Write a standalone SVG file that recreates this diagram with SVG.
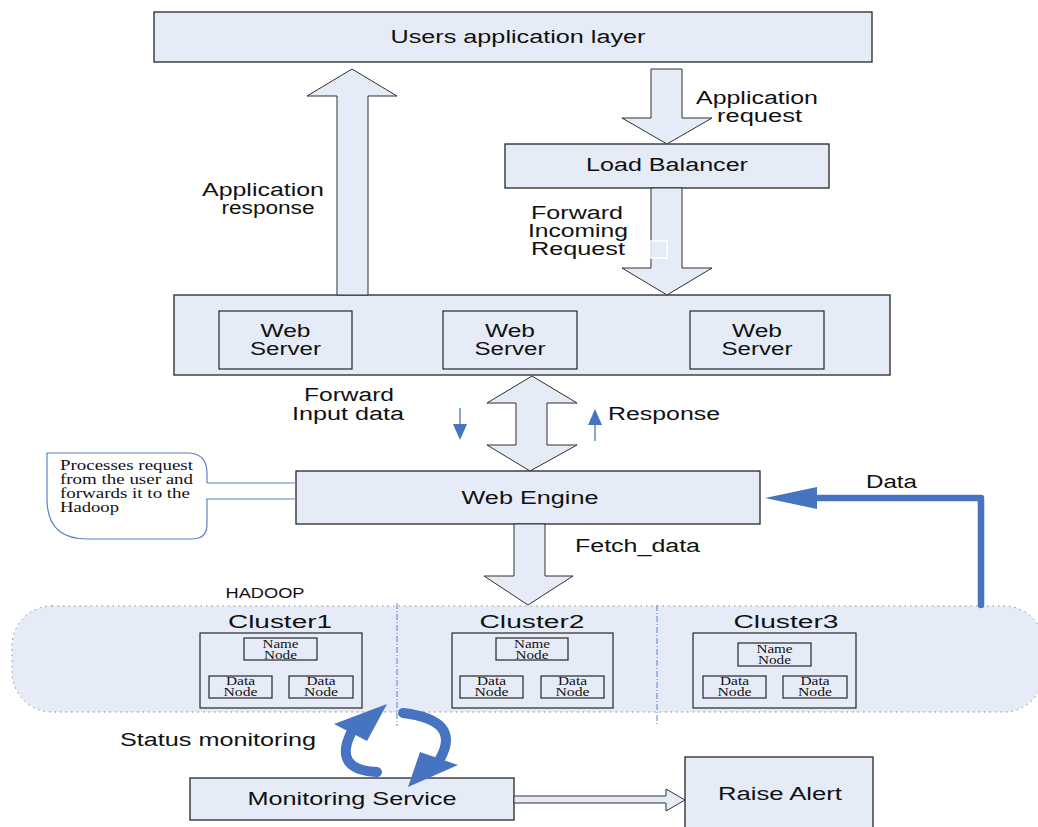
<svg xmlns="http://www.w3.org/2000/svg" width="1038" height="827" viewBox="0 0 1038 827">
  <style>
    .box { fill: #e6ecf7; stroke: #262626; stroke-width: 1.3; }
    .inner { fill: #e6ecf7; stroke: #262626; stroke-width: 1.2; }
    .fat { fill: #e6ecf7; stroke: #303030; stroke-width: 1; stroke-linejoin: miter; }
    .t { font-family: "Liberation Sans", Arial, sans-serif; font-size: 18px; fill: #111; text-anchor: middle; }
    .s { font-family: "Liberation Serif", "Times New Roman", serif; fill: #111; }
    .nn { font-size: 11.5px; text-anchor: middle; }
    .blue { fill: #4674c1; }
    .bl { stroke: #4674c1; fill: none; }
    .div { stroke: #5b84c4; stroke-width: 1; stroke-dasharray: 6 2 1 2; }
  </style>

  <!-- Hadoop container (drawn first, behind clusters) -->
  <g id="hadoop">
    <rect x="12" y="606" width="1032" height="106" rx="40" ry="40" fill="#e6ecf7" stroke="#8a8a8a" stroke-width="1" stroke-dasharray="1.5 4"/>
    <text class="t" x="265" y="598" style="font-size:14px" textLength="79" lengthAdjust="spacingAndGlyphs">HADOOP</text>
    <line class="div" x1="397" y1="603" x2="397" y2="726"/>
    <line class="div" x1="657" y1="605" x2="657" y2="726"/>
  </g>

  <g id="cluster1">
    <text class="t" x="280" y="628" textLength="104" lengthAdjust="spacingAndGlyphs">Cluster1</text>
    <rect class="inner" x="200" y="633" width="162" height="75"/>
    <rect class="inner" x="244" y="638" width="73" height="22"/>
    <text class="s nn"><tspan x="280.5" y="648" textLength="36" lengthAdjust="spacingAndGlyphs">Name</tspan><tspan x="280.5" y="659" textLength="33" lengthAdjust="spacingAndGlyphs">Node</tspan></text>
    <rect class="inner" x="209" y="676" width="63" height="22"/>
    <text class="s nn"><tspan x="240.5" y="685" textLength="29" lengthAdjust="spacingAndGlyphs">Data</tspan><tspan x="240.5" y="696" textLength="34" lengthAdjust="spacingAndGlyphs">Node</tspan></text>
    <rect class="inner" x="289" y="676" width="64" height="22"/>
    <text class="s nn"><tspan x="321" y="685" textLength="29" lengthAdjust="spacingAndGlyphs">Data</tspan><tspan x="321" y="696" textLength="34" lengthAdjust="spacingAndGlyphs">Node</tspan></text>
  </g>

  <g id="cluster2">
    <text class="t" x="532" y="628" textLength="105" lengthAdjust="spacingAndGlyphs">Cluster2</text>
    <rect class="inner" x="452" y="633" width="161" height="75"/>
    <rect class="inner" x="496" y="638" width="72" height="22"/>
    <text class="s nn"><tspan x="532" y="648" textLength="36" lengthAdjust="spacingAndGlyphs">Name</tspan><tspan x="532" y="659" textLength="33" lengthAdjust="spacingAndGlyphs">Node</tspan></text>
    <rect class="inner" x="460" y="676" width="63" height="22"/>
    <text class="s nn"><tspan x="491.5" y="685" textLength="29" lengthAdjust="spacingAndGlyphs">Data</tspan><tspan x="491.5" y="696" textLength="34" lengthAdjust="spacingAndGlyphs">Node</tspan></text>
    <rect class="inner" x="541" y="676" width="63" height="22"/>
    <text class="s nn"><tspan x="572.5" y="685" textLength="29" lengthAdjust="spacingAndGlyphs">Data</tspan><tspan x="572.5" y="696" textLength="34" lengthAdjust="spacingAndGlyphs">Node</tspan></text>
  </g>

  <g id="cluster3">
    <text class="t" x="786" y="628" textLength="105" lengthAdjust="spacingAndGlyphs">Cluster3</text>
    <rect class="inner" x="693" y="633" width="163" height="75"/>
    <rect class="inner" x="738" y="643" width="73" height="23"/>
    <text class="s nn"><tspan x="774.5" y="653" textLength="36" lengthAdjust="spacingAndGlyphs">Name</tspan><tspan x="774.5" y="664" textLength="33" lengthAdjust="spacingAndGlyphs">Node</tspan></text>
    <rect class="inner" x="703" y="676" width="63" height="22"/>
    <text class="s nn"><tspan x="734.5" y="685" textLength="29" lengthAdjust="spacingAndGlyphs">Data</tspan><tspan x="734.5" y="696" textLength="34" lengthAdjust="spacingAndGlyphs">Node</tspan></text>
    <rect class="inner" x="783" y="676" width="64" height="22"/>
    <text class="s nn"><tspan x="815" y="685" textLength="29" lengthAdjust="spacingAndGlyphs">Data</tspan><tspan x="815" y="696" textLength="34" lengthAdjust="spacingAndGlyphs">Node</tspan></text>
  </g>

  <g id="users-layer">
    <rect class="box" x="154" y="12" width="718" height="50"/>
    <text class="t" x="518" y="43" textLength="255" lengthAdjust="spacingAndGlyphs">Users application layer</text>
  </g>

  <g id="load-balancer">
    <rect class="box" x="505" y="144" width="324" height="44"/>
    <text class="t" x="667" y="171" textLength="162" lengthAdjust="spacingAndGlyphs">Load Balancer</text>
  </g>

  <g id="web-servers">
    <rect class="box" x="174" y="295" width="716" height="80"/>
    <rect class="inner" x="219" y="311" width="133" height="58"/>
    <text class="t" x="285.5" y="337" textLength="50" lengthAdjust="spacingAndGlyphs">Web</text>
    <text class="t" x="285.5" y="355" textLength="71" lengthAdjust="spacingAndGlyphs">Server</text>
    <rect class="inner" x="443" y="311" width="134" height="58"/>
    <text class="t" x="510" y="337" textLength="50" lengthAdjust="spacingAndGlyphs">Web</text>
    <text class="t" x="510" y="355" textLength="71" lengthAdjust="spacingAndGlyphs">Server</text>
    <rect class="inner" x="690" y="311" width="134" height="58"/>
    <text class="t" x="757" y="337" textLength="50" lengthAdjust="spacingAndGlyphs">Web</text>
    <text class="t" x="757" y="355" textLength="71" lengthAdjust="spacingAndGlyphs">Server</text>
  </g>

  <g id="web-engine">
    <rect class="box" x="296" y="471" width="464" height="53"/>
    <text class="t" x="530" y="504" textLength="137" lengthAdjust="spacingAndGlyphs">Web Engine</text>
  </g>

  <g id="note">
    <path d="M207,483 L207,473 Q207,453 187,453 L47,453 L47,499 Q47,539 87,539 L192,539 Q207,539 207,524 L207,499 L296,499 M207,483 L296,483" fill="none" stroke="#5b84c4" stroke-width="1.2"/>
    <text class="s" x="60" y="470" font-size="14" textLength="133" lengthAdjust="spacingAndGlyphs">Processes request</text>
    <text class="s" x="60" y="484" font-size="14" textLength="133" lengthAdjust="spacingAndGlyphs">from the user and</text>
    <text class="s" x="60" y="498" font-size="14" textLength="130" lengthAdjust="spacingAndGlyphs">forwards it to the</text>
    <text class="s" x="60" y="512" font-size="14" textLength="59" lengthAdjust="spacingAndGlyphs">Hadoop</text>
  </g>

  <g id="monitoring-service">
    <rect class="box" x="190" y="778" width="324" height="42"/>
    <text class="t" x="352" y="805" textLength="209" lengthAdjust="spacingAndGlyphs">Monitoring Service</text>
  </g>

  <g id="raise-alert">
    <rect class="box" x="685" y="757" width="188" height="80"/>
    <text class="t" x="780" y="800" textLength="124" lengthAdjust="spacingAndGlyphs">Raise Alert</text>
  </g>

  <g id="connectors">
    <!-- application response (up) -->
    <polygon class="fat" points="352,69 397,96 368,96 368,295 337,295 337,96 307,96"/>
    <text class="t" x="263" y="196" textLength="122" lengthAdjust="spacingAndGlyphs">Application</text>
    <text class="t" x="268" y="214" textLength="93" lengthAdjust="spacingAndGlyphs">response</text>

    <!-- application request (down) -->
    <polygon class="fat" points="651,69 682,69 682,118 712,118 667,144 622,118 651,118"/>
    <text class="t" x="757" y="104" textLength="122" lengthAdjust="spacingAndGlyphs">Application</text>
    <text class="t" x="759.5" y="122" textLength="85" lengthAdjust="spacingAndGlyphs">request</text>

    <!-- forward incoming request -->
    <polygon class="fat" points="651,188 682,188 682,268 712,268 667,295 622,268 651,268"/>
    <rect x="651" y="241" width="16" height="17" fill="none" stroke="#ffffff" stroke-width="1.5"/>
    <text class="t" x="577" y="219" textLength="92" lengthAdjust="spacingAndGlyphs">Forward</text>
    <text class="t" x="578" y="237" textLength="100" lengthAdjust="spacingAndGlyphs">Incoming</text>
    <text class="t" x="578" y="255" textLength="94" lengthAdjust="spacingAndGlyphs">Request</text>

    <!-- web servers <-> web engine -->
    <polygon class="fat" points="532,376 577,403 547,403 547,445 577,445 530,471 487,445 516,445 516,403 487,403"/>
    <line class="bl" x1="460" y1="408" x2="460" y2="426" stroke-width="1.3"/>
    <polygon class="blue" points="453,424 467,424 460,440"/>
    <text class="t" x="349" y="401" textLength="90" lengthAdjust="spacingAndGlyphs">Forward</text>
    <text class="t" x="348" y="420" textLength="112" lengthAdjust="spacingAndGlyphs">Input data</text>
    <line class="bl" x1="595" y1="441" x2="595" y2="423" stroke-width="1.3"/>
    <polygon class="blue" points="588,425 602,425 595,409"/>
    <text class="t" x="664" y="420" textLength="112" lengthAdjust="spacingAndGlyphs">Response</text>

    <!-- fetch data -->
    <polygon class="fat" points="514,524 545,524 545,576 573,576 528,605 484,576 514,576"/>
    <text class="t" x="637.5" y="552" textLength="125" lengthAdjust="spacingAndGlyphs">Fetch_data</text>

    <!-- data back to web engine -->
    <path class="bl" d="M981,605 V498 H812" stroke-width="6.5" stroke-linecap="round" stroke-linejoin="round"/>
    <polygon class="blue" points="765,498 817,487 817,509"/>
    <text class="t" x="891.5" y="488" textLength="51" lengthAdjust="spacingAndGlyphs">Data</text>

    <!-- status monitoring loop -->
    <path class="bl" d="M377,772 Q333,770 351,733" stroke-width="10" stroke-linecap="round"/>
    <polygon class="blue" points="387,704 334,724 367,741"/>
    <path class="bl" d="M403,713 Q462,720 440,759" stroke-width="10" stroke-linecap="round"/>
    <polygon class="blue" points="408,787 420,752 458,765"/>
    <text class="t" x="218" y="746" textLength="196" lengthAdjust="spacingAndGlyphs">Status monitoring</text>

    <!-- monitoring to alert -->
    <polygon points="514,796 666,796 666,789 685,800 666,811 666,803 514,803" fill="#e6ecf7" stroke="#303030" stroke-width="1"/>
  </g>
</svg>
